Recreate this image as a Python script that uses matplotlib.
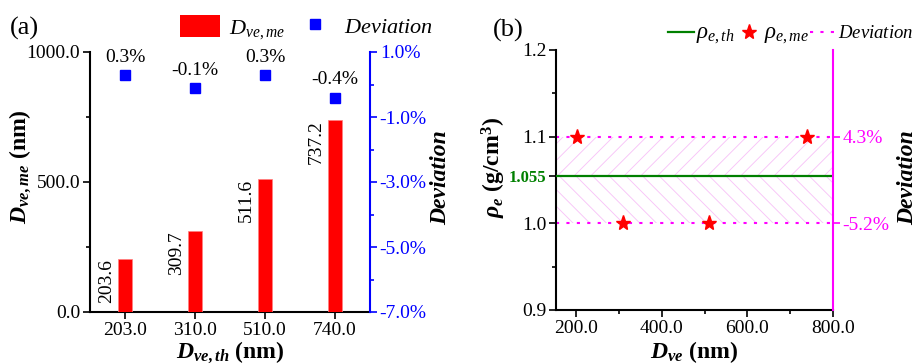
import matplotlib
matplotlib.use("Agg")
import matplotlib.pyplot as plt
from matplotlib.lines import Line2D
from matplotlib.patches import Patch
import numpy as np

plt.rcParams['font.family'] = ['Liberation Serif', 'DejaVu Serif']
plt.rcParams['mathtext.fontset'] = 'custom'
plt.rcParams['mathtext.rm'] = 'Liberation Serif'
plt.rcParams['mathtext.it'] = 'Liberation Serif:italic'
plt.rcParams['mathtext.bf'] = 'Liberation Serif:bold'
plt.rcParams['mathtext.bfit'] = 'Liberation Serif:bold:italic'
plt.rcParams['hatch.linewidth'] = 0.6

# ---------------- data ----------------
categories_a = ['203.0', '310.0', '510.0', '740.0']
d_me = [203.6, 309.7, 511.6, 737.2]
deviation_a = [0.3, -0.1, 0.3, -0.4]
dev_labels_a = ['0.3%', '-0.1%', '0.3%', '-0.4%']

d_ve_b = [203, 310, 510, 740]
rho_me = [1.1, 1.0, 1.0, 1.1]
rho_th = 1.055
dev_levels_b = [1.1, 1.0]
dev_labels_b = ['4.3%', '-5.2%']

TK = 14   # tick label size
AL = 17   # axis label size

fig = plt.figure(figsize=(9.22, 3.64), dpi=100)

# ---------------- panel (a) ----------------
ax = fig.add_axes([90/922, 1-312/364, 280/922, 260/364])
x = np.arange(len(categories_a))
bw = 0.2
ax.bar(x, d_me, width=bw, color='#ff0000', edgecolor='#ff8080', linewidth=0.5, zorder=3)
for xi, v in zip(x, d_me):
    ax.text(xi - bw/2 - 0.04, v, f'{v:.1f}', rotation=90, ha='right', va='top', fontsize=TK)
ax.set_xlim(-0.5, 3.5)
ax.set_ylim(0, 1000)
ax.set_xticks(x)
ax.set_xticklabels(categories_a)
ax.set_yticks([0, 500, 1000])
ax.set_yticklabels(['0.0', '500.0', '1000.0'])
ax.set_yticks([250, 750], minor=True)
ax.tick_params(axis='both', labelsize=TK, direction='out', length=5, width=1.2, pad=2)
ax.tick_params(axis='y', which='minor', length=3, width=1.2)
ax.spines['top'].set_visible(False)
ax.spines['right'].set_visible(False)
for s in ['left', 'bottom']:
    ax.spines[s].set_linewidth(1.5)
ax.set_ylabel(r'$\mathbfit{D}_{\mathbfit{ve,me}}$ (nm)', fontsize=AL, fontweight='bold')
ax.yaxis.set_label_coords(-0.204, 0.56)
ax.set_xlabel(r'$\mathbfit{D}_{\mathbfit{ve,th}}$ (nm)', fontsize=AL, fontweight='bold')
ax.xaxis.set_label_coords(0.5, -0.108)

ax2 = ax.twinx()
ax2.set_ylim(-7, 1)
ax2.plot(x, deviation_a, 's', color='#0000ff', markersize=7.5, zorder=4)
for xi, v, lab in zip(x, deviation_a, dev_labels_a):
    ax2.annotate(lab, (xi, v), xytext=(0, 6.5), textcoords='offset points', ha='center', va='bottom', fontsize=TK)
ax2.set_yticks([1, -1, -3, -5, -7])
ax2.set_yticklabels([f'{t:.1f}%' for t in [1, -1, -3, -5, -7]])
ax2.set_yticks([0, -2, -4, -6], minor=True)
ax2.tick_params(axis='y', which='both', colors='#0000ff', labelsize=TK, width=1.2, pad=2)
ax2.tick_params(axis='y', which='major', length=5)
ax2.tick_params(axis='y', which='minor', length=3)
ax2.spines['right'].set_color('#0000ff')
ax2.spines['right'].set_linewidth(1.5)
ax2.spines['top'].set_visible(False)
ax2.spines['left'].set_visible(False)
ax2.spines['bottom'].set_visible(False)
ax2.set_ylabel('Deviation', fontsize=AL, fontweight='bold', style='italic', rotation=90)
ax2.yaxis.set_label_coords(1.214, 0.515)

fig.text(10/922, 1-28/364, '(a)', fontsize=19, va='center', ha='left')
hA = [Patch(facecolor='#ff0000', edgecolor='none'),
      Line2D([], [], marker='s', color='#0000ff', linestyle='none', markersize=7.5)]
fig.legend(hA, [r'$D_{ve,me}$', r'$\it{Deviation}$'], loc='center left',
           bbox_to_anchor=(180/922, 1-28/364), ncol=2, frameon=False, fontsize=16,
           handlelength=1.8, handleheight=1.1, columnspacing=0.45, handletextpad=0.4,
           borderaxespad=0, borderpad=0)

# ---------------- panel (b) ----------------
bx = fig.add_axes([556/922, 1-310/364, 277/922, 260/364])
bx.set_xlim(153, 800)
bx.set_ylim(0.9, 1.2)
bx.fill_between([153, 800], rho_th, dev_levels_b[0], facecolor='none', edgecolor='#f8c0f8',
                hatch='//', linewidth=0, zorder=1)
bx.fill_between([153, 800], dev_levels_b[1], rho_th, facecolor='none', edgecolor='#f8c0f8',
                hatch='\\\\', linewidth=0, zorder=1)
bx.axhline(rho_th, color='#008000', linewidth=1.6, zorder=3)
for lv in dev_levels_b:
    bx.axhline(lv, color='#ff00ff', linewidth=1.5, dashes=(1.5, 3.5), zorder=2)
bx.plot(d_ve_b, rho_me, '*', color='#ff0000', markeredgecolor='#ff0000', markersize=11, zorder=4)
bx.set_xticks([200, 400, 600, 800])
bx.set_xticklabels(['200.0', '400.0', '600.0', '800.0'])
bx.set_xticks([300, 500, 700], minor=True)
yt = [0.9, 1.0, rho_th, 1.1, 1.2]
bx.set_yticks(yt)
bx.set_yticklabels(['0.9', '1.0', f'{rho_th:.3f}', '1.1', '1.2'])
bx.set_yticks([0.95, 1.15], minor=True)
bx.tick_params(axis='both', labelsize=TK, direction='out', length=5, width=1.2, pad=2)
bx.tick_params(axis='both', which='minor', length=3, width=1.2)
for lab in bx.get_yticklabels():
    if lab.get_text() == f'{rho_th:.3f}':
        lab.set_color('#008000')
        lab.set_fontweight('bold')
        lab.set_fontsize(12)
bx.spines['top'].set_visible(False)
bx.spines['right'].set_visible(False)
for s in ['left', 'bottom']:
    bx.spines[s].set_linewidth(1.5)
bx.set_ylabel(r'$\mathbfit{\rho}_{\mathbfit{e}}$ (g/cm$^{\mathbf{3}}$)', fontsize=AL, fontweight='bold')
bx.yaxis.set_label_coords(-0.172, 0.55)
bx.set_xlabel(r'$\mathbfit{D}_{\mathbfit{ve}}$ (nm)', fontsize=AL, fontweight='bold')
bx.xaxis.set_label_coords(0.5, -0.112)

bx2 = bx.twinx()
bx2.set_ylim(0.9, 1.2)
bx2.set_yticks(dev_levels_b)
bx2.set_yticklabels(dev_labels_b)
bx2.tick_params(axis='y', colors='#ff00ff', labelsize=TK, length=5, width=1.2, pad=2)
bx2.spines['right'].set_color('#ff00ff')
bx2.spines['right'].set_linewidth(1.5)
for s in ['top', 'left', 'bottom']:
    bx2.spines[s].set_visible(False)
bx2.set_ylabel('Deviation', fontsize=AL, fontweight='bold', style='italic', rotation=90)
bx2.yaxis.set_label_coords(1.231, 0.51)

fig.text(493/922, 1-30/364, '(b)', fontsize=19, va='center', ha='left')
hB = [Line2D([], [], color='#008000', linewidth=1.6),
      Line2D([], [], marker='*', color='#ff0000', linestyle='none', markersize=11),
      Line2D([], [], color='#ff00ff', linewidth=1.5, dashes=(1.5, 3.5))]
legB = fig.legend(hB, [r'$\rho_{e,th}$', r'$\rho_{e,me}$', r'$\it{Deviation}$'], loc='center left',
                  bbox_to_anchor=(668/922, 1-34/364), ncol=3, frameon=False, fontsize=13.5,
                  handlelength=1.4, columnspacing=0.05, handletextpad=0.1, borderaxespad=0,
                  borderpad=0)
for t in legB.get_texts()[:2]:
    t.set_fontsize(16.5)

fig.savefig('out.png', dpi=100)
